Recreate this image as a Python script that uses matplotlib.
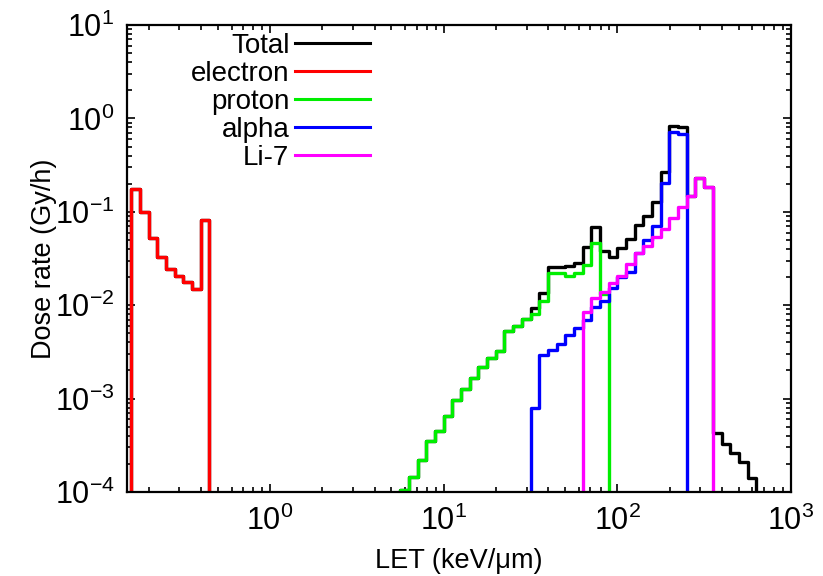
import matplotlib
matplotlib.use("Agg")
import matplotlib.pyplot as plt
from matplotlib.ticker import LogLocator, NullFormatter

plt.rcParams['font.family'] = ['Liberation Sans', 'DejaVu Sans']
plt.rcParams['mathtext.fontset'] = 'custom'
plt.rcParams['mathtext.rm'] = 'Liberation Sans'
plt.rcParams['mathtext.it'] = 'Liberation Sans:italic'
plt.rcParams['mathtext.bf'] = 'Liberation Sans:bold'

# ---------------- data (LET bin edges in keV/um, dose rate in Gy/h) ----------------
electron_edges = [0.1585, 0.1778, 0.1995, 0.2239, 0.2512, 0.2818, 0.3162, 0.3548, 0.3981, 0.4467]
electron_dose = [0.174, 0.0987, 0.052, 0.0326, 0.0244, 0.0206, 0.0179, 0.0149, 0.0817]

proton_edges = [5.623, 6.310, 7.079, 7.943, 8.913, 10.0, 11.22, 12.59, 14.13, 15.85, 17.78,
                19.95, 22.39, 25.12, 28.18, 31.62, 35.48, 39.81, 44.67, 50.12, 56.23, 63.10,
                70.79, 79.43, 89.13]
proton_dose = [1.05e-4, 1.46e-4, 2.2e-4, 3.55e-4, 4.5e-4, 6.5e-4, 9.7e-4, 1.27e-3, 1.68e-3,
               2.16e-3, 2.7e-3, 3.23e-3, 5.3e-3, 5.99e-3, 7.1e-3, 7.98e-3, 0.0112, 0.0222,
               0.0222, 0.0204, 0.0219, 0.0269, 0.0464, 0.0133]

alpha_edges = [31.62, 35.48, 39.81, 44.67, 50.12, 56.23, 63.10, 70.79, 79.43, 89.13, 100.0,
               112.2, 125.9, 141.3, 158.5, 177.8, 199.5, 223.9, 251.2]
alpha_dose = [7.9e-4, 2.93e-3, 3.31e-3, 3.85e-3, 4.8e-3, 5.7e-3, 6.95e-3, 9.5e-3, 0.0112,
              0.0152, 0.0199, 0.0229, 0.0365, 0.0499, 0.0705, 0.2017, 0.72, 0.68]

li7_edges = [63.10, 70.79, 79.43, 89.13, 100.0, 112.2, 125.9, 141.3, 158.5, 177.8, 199.5,
             223.9, 251.2, 281.8, 316.2, 354.8]
li7_dose = [8.5e-3, 0.012, 0.014, 0.0171, 0.0206, 0.0276, 0.0365, 0.043, 0.0533, 0.0654,
            0.0851, 0.1116, 0.1476, 0.2285, 0.186]

total_low_edges = electron_edges
total_low_dose = [0.174, 0.0987, 0.052, 0.0326, 0.0244, 0.0206, 0.0179, 0.0149, 0.0817]

total_high_edges = [5.623, 6.310, 7.079, 7.943, 8.913, 10.0, 11.22, 12.59, 14.13, 15.85, 17.78,
                    19.95, 22.39, 25.12, 28.18, 31.62, 35.48, 39.81, 44.67, 50.12, 56.23, 63.10,
                    70.79, 79.43, 89.13, 100.0, 112.2, 125.9, 141.3, 158.5, 177.8, 199.5, 223.9,
                    251.2, 281.8, 316.2, 354.8, 398.1, 446.7, 501.2, 562.3, 631.0]
total_high_dose = [1.05e-4, 1.46e-4, 2.2e-4, 3.55e-4, 4.5e-4, 6.5e-4, 9.7e-4, 1.27e-3, 1.68e-3,
                   2.16e-3, 2.7e-3, 3.23e-3, 5.3e-3, 5.99e-3, 7.1e-3, 9.3e-3, 0.0136, 0.0259,
                   0.0259, 0.0262, 0.028, 0.0423, 0.068, 0.038, 0.033, 0.0408, 0.0508, 0.0723,
                   0.0902, 0.128, 0.269, 0.82, 0.80, 0.1476, 0.2285, 0.186, 4.3e-4, 3.3e-4,
                   2.6e-4, 2.1e-4, 1.4e-4]

labels = ["Total", "electron", "proton", "alpha", "Li-7"]
colors = ["#000000", "#ff0000", "#00ee00", "#0000ff", "#ff00ff"]


def step_xy(edges, vals, floor=1e-7):
    xs = [edges[0]]
    ys = [floor]
    for i, v in enumerate(vals):
        xs += [edges[i], edges[i + 1]]
        ys += [v, v]
    xs.append(edges[-1])
    ys.append(floor)
    return xs, ys


fig = plt.figure(figsize=(8.23, 5.76), dpi=100)
ax = fig.add_axes([127 / 823, 1 - 492 / 576, (791 - 127) / 823, (492 - 25) / 576])

lw = 2.4
handles = []
x, y = step_xy(total_low_edges, total_low_dose)
ax.plot(x, y, color=colors[0], lw=lw)
x, y = step_xy(total_high_edges, total_high_dose)
h, = ax.plot(x, y, color=colors[0], lw=lw, label=labels[0])
handles.append(h)
for edges, vals, lab, col in [(electron_edges, electron_dose, labels[1], colors[1]),
                              (proton_edges, proton_dose, labels[2], colors[2]),
                              (alpha_edges, alpha_dose, labels[3], colors[3]),
                              (li7_edges, li7_dose, labels[4], colors[4])]:
    x, y = step_xy(edges, vals)
    h, = ax.plot(x, y, color=col, lw=lw, label=lab)
    handles.append(h)

ax.set_xscale('log')
ax.set_yscale('log')
ax.set_xlim(0.15, 1000)
ax.set_ylim(1e-4, 10)

ax.xaxis.set_major_locator(LogLocator(base=10, numticks=20))
ax.xaxis.set_minor_locator(LogLocator(base=10, subs=range(2, 10), numticks=50))
ax.yaxis.set_major_locator(LogLocator(base=10, numticks=20))
ax.yaxis.set_minor_locator(LogLocator(base=10, subs=range(2, 10), numticks=50))
ax.xaxis.set_minor_formatter(NullFormatter())
ax.yaxis.set_minor_formatter(NullFormatter())

ax.tick_params(which='both', direction='in', top=True, right=True, width=1.2)
ax.tick_params(which='major', length=6)
ax.tick_params(which='minor', length=3.5)
ax.tick_params(axis='x', which='major', labelsize=22, pad=10)
ax.tick_params(axis='y', which='major', labelsize=22, pad=9)
for s in ax.spines.values():
    s.set_linewidth(1.6)

ax.set_xlabel("LET (keV/\u03bcm)", fontsize=19.5, labelpad=8)
ax.set_ylabel("Dose rate (Gy/h)", fontsize=19.5, labelpad=-2)

leg = ax.legend(handles=handles, loc='upper right', bbox_to_anchor=(370 / 823, 1 - 33 / 576),
                bbox_transform=fig.transFigure, frameon=False, markerfirst=False,
                fontsize=20, handlelength=2.7, handletextpad=0.2, labelspacing=0.07,
                borderpad=0, borderaxespad=0)
for t in leg.get_texts():
    t.set_ha('right')
for lh in leg.get_lines():
    lh.set_linewidth(2.2)

fig.savefig("out.png", dpi=100, facecolor='white')
